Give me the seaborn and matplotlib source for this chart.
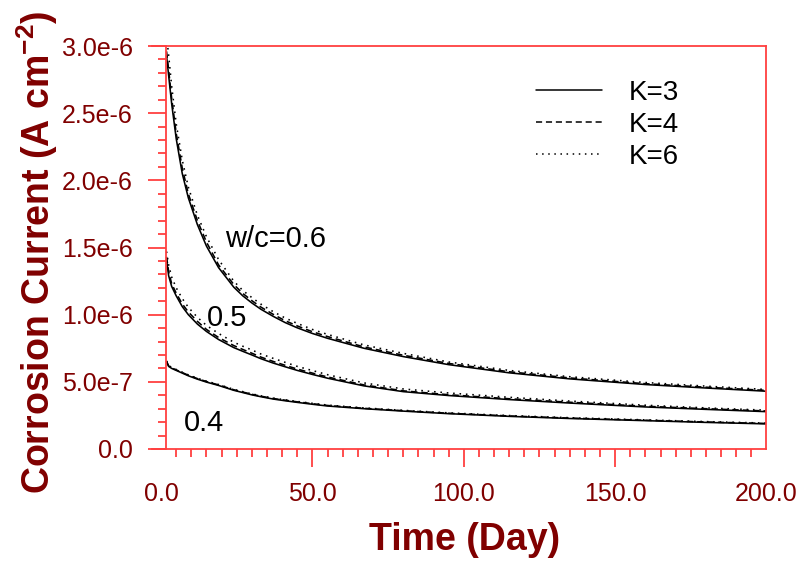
import numpy as np
import pandas as pd
import matplotlib
matplotlib.use("Agg")
import matplotlib.pyplot as plt
from matplotlib.lines import Line2D
import seaborn as sns

# ---------------- data (current in units of 1e-6 A/cm^2) ----------------
days = [1.8, 2.5, 3.5, 5, 7, 9, 12, 15, 19, 24, 27, 30, 33, 37, 41, 45, 50, 55, 67, 80, 95, 115, 135, 160, 180, 200]

wc06_k3 = [2.93, 2.78, 2.57, 2.31, 2.05, 1.87, 1.67, 1.51, 1.35, 1.205, 1.14, 1.087, 1.04, 0.988, 0.941, 0.902, 0.86, 0.824, 0.75, 0.688, 0.628, 0.567, 0.522, 0.48, 0.454, 0.43]
wc06_k4 = [2.96, 2.82, 2.61, 2.35, 2.09, 1.90, 1.70, 1.54, 1.37, 1.225, 1.158, 1.104, 1.056, 1.003, 0.955, 0.916, 0.873, 0.837, 0.76, 0.698, 0.637, 0.575, 0.529, 0.486, 0.46, 0.436]
wc06_k6 = [3.08, 2.93, 2.70, 2.42, 2.15, 1.95, 1.74, 1.58, 1.41, 1.25, 1.18, 1.127, 1.078, 1.023, 0.975, 0.935, 0.89, 0.853, 0.775, 0.712, 0.648, 0.585, 0.538, 0.495, 0.468, 0.443]

wc05_k3 = [1.41, 1.29, 1.21, 1.14, 1.06, 1.00, 0.93, 0.875, 0.815, 0.755, 0.727, 0.70, 0.672, 0.64, 0.612, 0.585, 0.555, 0.527, 0.47, 0.427, 0.398, 0.368, 0.342, 0.313, 0.295, 0.278]
wc05_k4 = [1.43, 1.32, 1.23, 1.16, 1.08, 1.02, 0.95, 0.89, 0.83, 0.77, 0.741, 0.713, 0.684, 0.652, 0.623, 0.595, 0.565, 0.536, 0.477, 0.433, 0.404, 0.374, 0.348, 0.318, 0.30, 0.283]
wc05_k6 = [1.47, 1.37, 1.28, 1.20, 1.12, 1.055, 0.98, 0.92, 0.86, 0.795, 0.765, 0.737, 0.707, 0.675, 0.645, 0.615, 0.584, 0.553, 0.492, 0.447, 0.417, 0.385, 0.357, 0.326, 0.306, 0.289]

wc04_k3 = [0.65, 0.615, 0.60, 0.585, 0.565, 0.545, 0.52, 0.498, 0.473, 0.437, 0.42, 0.403, 0.389, 0.372, 0.359, 0.347, 0.333, 0.32, 0.30, 0.282, 0.263, 0.243, 0.227, 0.211, 0.198, 0.187]
wc04_k4 = [0.653, 0.618, 0.603, 0.589, 0.569, 0.549, 0.524, 0.502, 0.477, 0.441, 0.424, 0.407, 0.393, 0.376, 0.363, 0.351, 0.337, 0.324, 0.303, 0.285, 0.266, 0.246, 0.230, 0.214, 0.201, 0.190]
wc04_k6 = [0.656, 0.622, 0.607, 0.592, 0.572, 0.552, 0.527, 0.505, 0.480, 0.444, 0.427, 0.410, 0.396, 0.379, 0.366, 0.354, 0.340, 0.327, 0.306, 0.288, 0.269, 0.249, 0.233, 0.217, 0.204, 0.193]

k_labels = ["K=3", "K=4", "K=6"]
wc_labels = ["w/c=0.6", "0.5", "0.4"]
x_tick_vals = [0, 50, 100, 150, 200]
x_tick_labels = ["0.0", "50.0", "100.0", "150.0", "200.0"]
y_tick_vals = [0.0, 0.5e-6, 1.0e-6, 1.5e-6, 2.0e-6, 2.5e-6, 3.0e-6]
y_tick_labels = ["0.0", "5.0e-7", "1.0e-6", "1.5e-6", "2.0e-6", "2.5e-6", "3.0e-6"]

series = {
    ("0.6", "K=3"): wc06_k3, ("0.6", "K=4"): wc06_k4, ("0.6", "K=6"): wc06_k6,
    ("0.5", "K=3"): wc05_k3, ("0.5", "K=4"): wc05_k4, ("0.5", "K=6"): wc05_k6,
    ("0.4", "K=3"): wc04_k3, ("0.4", "K=4"): wc04_k4, ("0.4", "K=6"): wc04_k6,
}
rows = []
for (wc, k), vals in series.items():
    for d, v in zip(days, vals):
        rows.append({"day": d, "current": v * 1e-6, "wc": wc, "K": k})
df = pd.DataFrame(rows)

# ---------------- style ----------------
sns.set_style("white")
plt.rcParams["font.family"] = ["Liberation Sans", "DejaVu Sans"]
plt.rcParams["mathtext.fontset"] = "custom"
plt.rcParams["mathtext.rm"] = "Liberation Sans:bold"
plt.rcParams["mathtext.default"] = "rm"
plt.rcParams["text.color"] = "black"

RED = "#ff4040"
DARKRED = "#800000"
W, H = 803, 569

styles = {"K=3": "-", "K=4": (0, (4, 2.5)), "K=6": (0, (1, 3))}

fig = plt.figure(figsize=(W / 100, H / 100), dpi=100)
ax = fig.add_axes([152 / W, 1 - 449 / H, 614.5 / W, 403 / H])

for (wc, k), sub in df.groupby(["wc", "K"]):
    sns.lineplot(data=sub, x="day", y="current", color="black", lw=1.15,
                 linestyle=styles[k], estimator=None, sort=False, ax=ax, legend=False)

ax.set_xlim(-3, 200)
ax.set_ylim(0, 3e-6)
ax.set_xlabel("")
ax.set_ylabel("")

for s in ax.spines.values():
    s.set_visible(True)
    s.set_color(RED)
    s.set_linewidth(1.3)
ax.spines["left"].set_position(("data", 1.6))

ax.set_xticks(x_tick_vals, labels=x_tick_labels)
ax.set_xticks(np.arange(5, 200, 5), minor=True)
ax.set_yticks(y_tick_vals, labels=y_tick_labels)
ax.set_yticks(np.arange(0.1e-6, 3.0e-6, 0.1e-6), minor=True)

ax.tick_params(axis="both", which="major", direction="out", length=13, width=1.3,
               color=RED, labelsize=18, labelcolor=DARKRED)
ax.tick_params(axis="both", which="minor", direction="out", length=6, width=1.3, color=RED)
ax.tick_params(axis="x", which="major", pad=11)
ax.tick_params(axis="y", which="major", pad=11)
ax.tick_params(bottom=True, left=True, top=False, right=False, which="both")
xt = ax.xaxis.get_major_ticks()
xt[0].tick1line.set_visible(False)
xt[-1].tick1line.set_visible(False)

# axis titles
fig.text(37 / W, 1 - 252 / H, "Corrosion Current (A cm$^{-2}$)", rotation=90,
         fontsize=27, fontweight="bold", color=DARKRED, ha="center", va="center")
fig.text(465 / W, 1 - 540 / H, "Time (Day)", fontsize=27, fontweight="bold",
         color=DARKRED, ha="center", va="center")

# curve annotations
ann_pos = [(276, 239), (227, 318), (204, 423)]
for lab, (px, py) in zip(wc_labels, ann_pos):
    fig.text(px / W, 1 - py / H, lab, fontsize=21, color="black", ha="center", va="center")

# legend
handles = [Line2D([], [], color="black", lw=1.1, linestyle=styles[k]) for k in k_labels]
leg = ax.legend(handles, k_labels, loc="upper left", bbox_to_anchor=(536 / W, 1 - 80 / H),
                bbox_transform=fig.transFigure, frameon=False, fontsize=20,
                handlelength=2.37, handletextpad=0.97, labelspacing=0.21,
                borderpad=0, borderaxespad=0)
for t in leg.get_texts():
    t.set_color("black")

fig.savefig("out.png", dpi=100)
